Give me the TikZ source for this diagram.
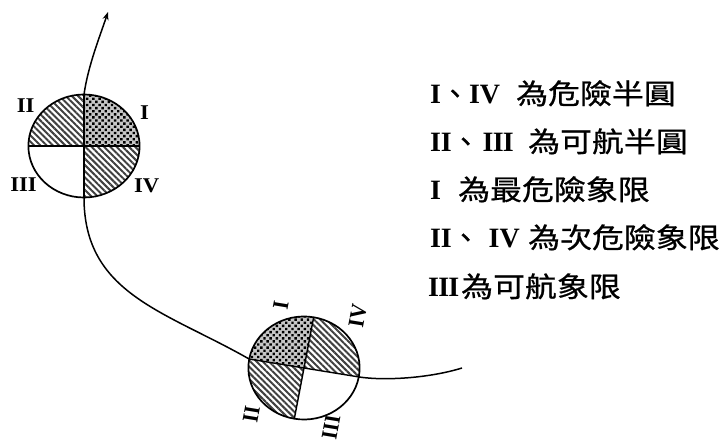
\documentclass[tikz,border=0pt]{standalone}
\usepackage{fontspec}
\usepackage{graphicx}
\setmainfont{Liberation Serif}
\newfontfamily\cjk{Noto Sans CJK TC}[FakeBold=0.7]
\usetikzlibrary{patterns.meta,arrows.meta}
\tikzset{
  hatchq/.style={pattern={Lines[angle=-45,distance=4.4pt,line width=2pt]},pattern color=black!75},
  dotbg/.style={fill=gray!45},
  dotq/.style={pattern={Dots[angle=45,distance=4.4pt,radius=1.7pt]},pattern color=black},
  rim/.style={line width=1.7pt},
  divider/.style={line width=1.4pt},
  track/.style={line width=1.5pt},
  qlabel/.style={font=\fontsize{21}{21}\selectfont\bfseries, inner sep=0pt},
  roman/.style={font=\fontsize{28}{28}\selectfont\bfseries, inner sep=0pt, anchor=base west},
  cjkline/.style={inner sep=0pt, anchor=base west},
}
\newcommand{\cjktext}[1]{\scalebox{1.14}[1]{\fontsize{28}{28}\selectfont\cjk #1}}
\newcommand{\cjkc}{{\mdseries\cjk 、}}
\begin{document}
\begin{tikzpicture}[x=1pt,y=1pt]
\useasboundingbox (0,0) rectangle (724,441);

% ---- circle 1 (upper left)
\begin{scope}[shift={(84,295)}, xscale=1.08]
  \fill[dotbg] (0,0) -- (0:51.5) arc[start angle=0,end angle=90,radius=51.5] -- cycle;
  \fill[dotq] (0,0) -- (0:51.5) arc[start angle=0,end angle=90,radius=51.5] -- cycle;
  \fill[hatchq] (0,0) -- (90:51.5) arc[start angle=90,end angle=180,radius=51.5] -- cycle;
  \fill[hatchq] (0,0) -- (270:51.5) arc[start angle=270,end angle=360,radius=51.5] -- cycle;
  \draw[divider] (90:51.5) -- (270:51.5);
  \draw[divider] (180:51.5) -- (0:51.5);
  \draw[rim] (0,0) circle[radius=51.5];
  \coordinate (c1top) at (90:51.5);
  \coordinate (c1bot) at (270:51.5);
  \node[qlabel, transform shape] (a1) at (56,33) {I};
  \node[qlabel, transform shape] (a2) at (-54,40) {II};
  \node[qlabel, transform shape] (a3) at (-56,-39) {III};
  \node[qlabel, transform shape] (a4) at (58,-40) {IV};
\end{scope}

% ---- circle 2 (lower middle), rotated
\begin{scope}[shift={(304,73)}, xscale=1.08, rotate=80]
  \fill[dotbg] (0,0) -- (0:51.5) arc[start angle=0,end angle=90,radius=51.5] -- cycle;
  \fill[dotq] (0,0) -- (0:51.5) arc[start angle=0,end angle=90,radius=51.5] -- cycle;
  \fill[hatchq] (0,0) -- (90:51.5) arc[start angle=90,end angle=180,radius=51.5] -- cycle;
  \fill[hatchq] (0,0) -- (270:51.5) arc[start angle=270,end angle=360,radius=51.5] -- cycle;
  \draw[divider] (90:51.5) -- (270:51.5);
  \draw[divider] (180:51.5) -- (0:51.5);
  \draw[rim] (0,0) circle[radius=51.5];
  \coordinate (c2left) at (90:51.5);
  \coordinate (c2right) at (270:51.5);
  \node[qlabel, transform shape] (b1) at (58,32) {I};
  \node[qlabel, transform shape] (b2) at (-54,40) {II};
  \node[qlabel, transform shape] (b3) at (-54,-35) {III};
  \node[qlabel, transform shape] (b4) at (60,-40) {IV};
\end{scope}

% ---- track
\draw[track] (c2right) .. controls (385,60) and (430,63) .. (462,73);
\draw[track] (c2left) .. controls (165,130) and (84,147) .. (c1bot);
\draw[track, -{Stealth[length=8pt,width=6pt]}] (c1top) .. controls (88,375) and (100,405) .. (108,429);

% ---- legend text
\node[roman] (r1) at (430,337) {I\cjkc IV};
\node[cjkline] (t1) at (516,337) {\cjktext{為危險半圓}};
\node[roman] (r2) at (430,289) {I\kern-0.3pt I\cjkc\hspace{3pt}I\kern-0.8pt I\kern-0.8pt I};
\node[cjkline] (t2) at (528,289) {\cjktext{為可航半圓}};
\node[roman] (r3) at (430,241) {I};
\node[cjkline] (t3) at (458,241) {\cjktext{為最危險象限}};
\node[roman] (r4) at (430,193) {I\kern-0.3pt I\cjkc\hspace{9pt}IV};
\node[cjkline] (t4) at (528,193) {\cjktext{為次危險象限}};
\node[roman] (r5) at (428,144) {I\kern-0.8pt I\kern-0.8pt I};
\node[cjkline] (t5) at (461,144) {\cjktext{為可航象限}};
\end{tikzpicture}
\end{document}
